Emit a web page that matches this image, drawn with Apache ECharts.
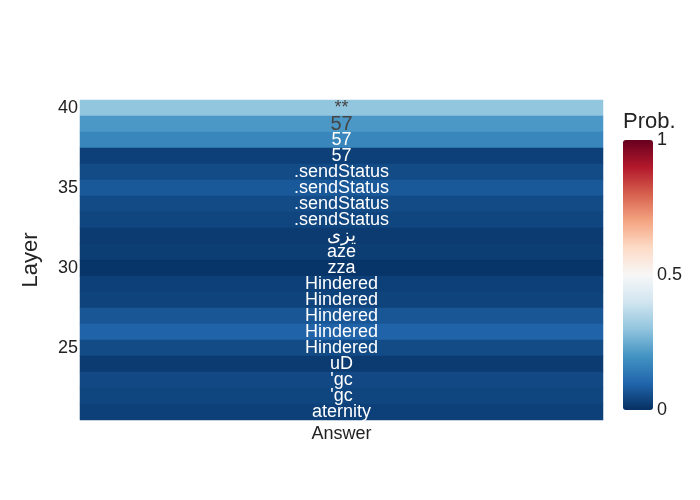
<!DOCTYPE html>
<html>
<head>
<meta charset="utf-8">
<script src="https://cdn.jsdelivr.net/npm/echarts@6/dist/echarts.min.js"></script>
<style>
  html, body { margin: 0; padding: 0; background: #fff; }
  #chart { width: 700px; height: 500px; }
</style>
</head>
<body>
<div id="chart"></div>
<script>
// rows listed top to bottom (layer 40 -> 21)
const layers = [40, 39, 38, 37, 36, 35, 34, 33, 32, 31, 30, 29, 28, 27, 26, 25, 24, 23, 22, 21]
const answers = ["**", "57", "57", "57", ".sendStatus", ".sendStatus", ".sendStatus", ".sendStatus",
    "يزی", "aze", "zza", "Hindered", "Hindered", "Hindered", "Hindered", "Hindered",
    "uD", "'gc", "'gc", "aternity"]
const probs = [0.30, 0.21, 0.17, 0.03, 0.05, 0.075, 0.05, 0.04, 0.02, 0.025,
    0.01, 0.03, 0.035, 0.07, 0.095, 0.05, 0.02, 0.045, 0.04, 0.03]
const columns = ["Answer"]
const colorTicks = [0, 0.5, 1]

// RdBu, low -> high
const rdbu = ["#053061", "#2166ac", "#4393c3", "#92c5de", "#d1e5f0", "#f7f7f7",
    "#fddbc7", "#f4a582", "#d6604d", "#b2182b", "#67001f"]

const font = "Liberation Sans, Arial, sans-serif"

const chart = echarts.init(document.getElementById("chart"))

// y category axis goes bottom -> top
const yCats = layers.slice().reverse().map(String)
const data = layers.map((layer, i) => {
    const p = probs[i]
    return {
        value: [0, String(layer), p],
        name: answers[i],
        label: {
            color: p > 0.18 ? "#444" : "#fff",
            fontSize: i === 1 ? 20 : 18,
        },
    }
})

const option = {
    backgroundColor: "#fff",
    title: {
        text: "Prob.",
        left: 623,
        top: 111,
        padding: 0,
        textStyle: { fontFamily: font, fontSize: 22, fontWeight: "normal", color: "#222" },
    },
    grid: [
        { left: 80, right: 97, top: 100, bottom: 80 },
        { left: 623, width: 30, top: 140, height: 270, show: false },
    ],
    xAxis: [
        {
            type: "category",
            data: columns,
            gridIndex: 0,
            axisLine: { show: false },
            axisTick: { show: false },
            axisLabel: { fontFamily: font, fontSize: 18, color: "#222", margin: 5 },
        },
        { type: "value", gridIndex: 1, show: false },
    ],
    yAxis: [
        {
            type: "category",
            data: yCats,
            gridIndex: 0,
            name: "Layer",
            nameLocation: "middle",
            nameGap: 38,
            nameTextStyle: { fontFamily: font, fontSize: 22, color: "#222" },
            axisLine: { show: false },
            axisTick: { show: false },
            axisLabel: {
                fontFamily: font,
                fontSize: 18,
                color: "#222",
                margin: 2,
                interval: (idx, val) => Number(val) % 5 === 0,
            },
        },
        {
            type: "value",
            gridIndex: 1,
            min: 0,
            max: 1,
            interval: 0.5,
            position: "right",
            axisLine: { show: false },
            axisTick: { show: false },
            splitLine: { show: false },
            axisLabel: {
                fontFamily: font,
                fontSize: 18,
                color: "#222",
                margin: 4,
                formatter: v => colorTicks.includes(v) ? String(v) : "",
            },
        },
    ],
    visualMap: {
        type: "continuous",
        min: 0,
        max: 1,
        calculable: false,
        orient: "vertical",
        left: 623,
        top: 140,
        padding: 0,
        itemWidth: 30,
        itemHeight: 270,
        text: null,
        showLabel: false,
        inRange: { color: rdbu },
        seriesIndex: 0,
    },
    series: [
        {
            type: "heatmap",
            xAxisIndex: 0,
            yAxisIndex: 0,
            data: data,
            label: {
                show: true,
                fontFamily: font,
                padding: [2, 0, 0, 0],
                formatter: p => p.name,
            },
            emphasis: { disabled: true },
        },
    ],
}

chart.setOption(option)
</script>
</body>
</html>
